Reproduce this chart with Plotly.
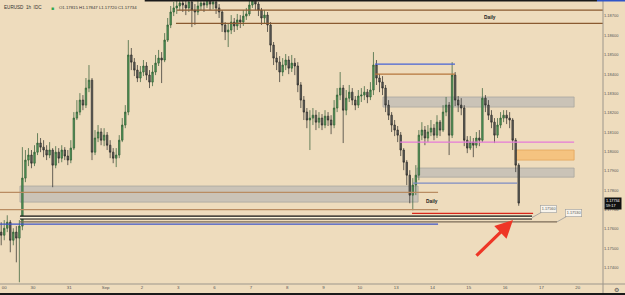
import plotly.graph_objects as go

# ---------------- data ----------------
symbol_text = "EURUSD  1h  IDC"
ohlc_text = "O1.17815 H1.17847 L1.17720 C1.17734"
last_price = 1.17734
countdown = "59:17"

first_open = 1.17584
closes = [
 1.17568, 1.17604, 1.17635, 1.17542, 1.17584, 1.17553, 1.17615, 1.17863, 1.17956, 1.17982,
 1.17940, 1.17997, 1.18044, 1.18023, 1.18008, 1.17982, 1.18008, 1.17930, 1.17997, 1.17966,
 1.18008, 1.17977, 1.17956, 1.18018, 1.18173, 1.18204, 1.18266, 1.18240, 1.18328, 1.18369,
 1.17997, 1.18070, 1.18101, 1.18059, 1.18085, 1.18033, 1.17997, 1.17966, 1.17982, 1.18059,
 1.18137, 1.18204, 1.18499, 1.18462, 1.18421, 1.18380, 1.18411, 1.18442, 1.18395, 1.18359,
 1.18411, 1.18457, 1.18483, 1.18473, 1.18576, 1.18654, 1.18721, 1.18742, 1.18752, 1.18767,
 1.18757, 1.18742, 1.18773, 1.18731, 1.18721, 1.18752, 1.18767, 1.18757, 1.18793, 1.18762,
 1.18773, 1.18742, 1.18721, 1.18654, 1.18618, 1.18628, 1.18669, 1.18649, 1.18680, 1.18669,
 1.18700, 1.18711, 1.18757, 1.18783, 1.18762, 1.18731, 1.18690, 1.18705, 1.18654, 1.18550,
 1.18483, 1.18462, 1.18411, 1.18447, 1.18473, 1.18431, 1.18457, 1.18442, 1.18344, 1.18266,
 1.18204, 1.18163, 1.18173, 1.18188, 1.18152, 1.18173, 1.18137, 1.18183, 1.18163, 1.18137,
 1.18225, 1.18292, 1.18328, 1.18214, 1.18276, 1.18307, 1.18266, 1.18240, 1.18287, 1.18292,
 1.18307, 1.18282, 1.18318, 1.18447, 1.18380, 1.18359, 1.18328, 1.18240, 1.18188, 1.18137,
 1.18111, 1.18085, 1.18008, 1.17945, 1.17878, 1.17775, 1.17827, 1.17878, 1.18085, 1.18111,
 1.18070, 1.18101, 1.18121, 1.18085, 1.18152, 1.18111, 1.18204, 1.18240, 1.18085, 1.18395,
 1.18266, 1.18240, 1.18225, 1.18059, 1.18018, 1.18049, 1.18033, 1.18070, 1.18059, 1.18276,
 1.18240, 1.18188, 1.18152, 1.18085, 1.18137, 1.18173, 1.18188, 1.18173, 1.18163, 1.18059,
 1.17930, 1.17734]
highs = [
 1.17635, 1.17646, 1.17671, 1.17646, 1.17604, 1.17615, 1.17646, 1.18023, 1.18008, 1.18018,
 1.18008, 1.18033, 1.18095, 1.18070, 1.18059, 1.18033, 1.18049, 1.18018, 1.18028, 1.18018,
 1.18033, 1.18023, 1.18008, 1.18059, 1.18204, 1.18266, 1.18302, 1.18292, 1.18380, 1.18447,
 1.18380, 1.18111, 1.18137, 1.18121, 1.18121, 1.18101, 1.18059, 1.18018, 1.18018, 1.18085,
 1.18173, 1.18240, 1.18576, 1.18535, 1.18483, 1.18447, 1.18442, 1.18473, 1.18462, 1.18421,
 1.18447, 1.18499, 1.18525, 1.18514, 1.18612, 1.18690, 1.18752, 1.18773, 1.18793, 1.18809,
 1.18799, 1.18783, 1.18814, 1.18783, 1.18762, 1.18793, 1.18804, 1.18799, 1.18824, 1.18809,
 1.18814, 1.18783, 1.18762, 1.18731, 1.18669, 1.18659, 1.18705, 1.18690, 1.18711, 1.18705,
 1.18731, 1.18742, 1.18793, 1.18824, 1.18809, 1.18773, 1.18742, 1.18731, 1.18721, 1.18669,
 1.18566, 1.18514, 1.18493, 1.18483, 1.18504, 1.18493, 1.18499, 1.18483, 1.18462, 1.18359,
 1.18287, 1.18225, 1.18214, 1.18225, 1.18214, 1.18204, 1.18194, 1.18214, 1.18204, 1.18188,
 1.18266, 1.18328, 1.18411, 1.18344, 1.18318, 1.18344, 1.18328, 1.18287, 1.18318, 1.18328,
 1.18338, 1.18323, 1.18359, 1.18514, 1.18473, 1.18400, 1.18390, 1.18344, 1.18266, 1.18204,
 1.18163, 1.18132, 1.18101, 1.18018, 1.17956, 1.17904, 1.17863, 1.17930, 1.18111, 1.18152,
 1.18132, 1.18137, 1.18163, 1.18142, 1.18188, 1.18163, 1.18240, 1.18282, 1.18256, 1.18462,
 1.18411, 1.18287, 1.18276, 1.18240, 1.18080, 1.18080, 1.18070, 1.18101, 1.18111, 1.18328,
 1.18292, 1.18266, 1.18214, 1.18173, 1.18173, 1.18204, 1.18214, 1.18214, 1.18204, 1.18173,
 1.18070, 1.17940]
lows = [
 1.17516, 1.17542, 1.17584, 1.17480, 1.17516, 1.17428, 1.17325, 1.17594, 1.17842, 1.17925,
 1.17914, 1.17925, 1.17982, 1.17997, 1.17971, 1.17956, 1.17966, 1.17816, 1.17914, 1.17940,
 1.17945, 1.17956, 1.17930, 1.17940, 1.18008, 1.18163, 1.18188, 1.18214, 1.18225, 1.18307,
 1.17956, 1.17982, 1.18049, 1.18033, 1.18028, 1.18008, 1.17966, 1.17940, 1.17920, 1.17966,
 1.18049, 1.18121, 1.18188, 1.18421, 1.18390, 1.18359, 1.18359, 1.18390, 1.18369, 1.18328,
 1.18338, 1.18395, 1.18442, 1.18354, 1.18462, 1.18566, 1.18638, 1.18700, 1.18711, 1.18731,
 1.18721, 1.18705, 1.18721, 1.18643, 1.18654, 1.18705, 1.18731, 1.18721, 1.18742, 1.18731,
 1.18736, 1.18711, 1.18690, 1.18618, 1.18576, 1.18540, 1.18607, 1.18618, 1.18628, 1.18638,
 1.18649, 1.18680, 1.18700, 1.18742, 1.18731, 1.18700, 1.18654, 1.18659, 1.18618, 1.18514,
 1.18447, 1.18421, 1.18359, 1.18390, 1.18421, 1.18400, 1.18411, 1.18395, 1.18307, 1.18225,
 1.18163, 1.18121, 1.18008, 1.18137, 1.18111, 1.18121, 1.18111, 1.18121, 1.18132, 1.18090,
 1.18121, 1.18204, 1.18266, 1.18044, 1.18188, 1.18256, 1.18240, 1.18214, 1.18225, 1.18256,
 1.18266, 1.18250, 1.18266, 1.18292, 1.18344, 1.18307, 1.18292, 1.18204, 1.18163, 1.18101,
 1.18080, 1.18049, 1.17977, 1.17904, 1.17827, 1.17733, 1.17697, 1.17775, 1.17852, 1.18059,
 1.18033, 1.18049, 1.18080, 1.18059, 1.18070, 1.18080, 1.18101, 1.18183, 1.17982, 1.18070,
 1.18235, 1.18204, 1.18188, 1.18028, 1.17992, 1.18008, 1.17971, 1.18018, 1.18028, 1.18049,
 1.18204, 1.18163, 1.18121, 1.18044, 1.18070, 1.18121, 1.18152, 1.18142, 1.18121, 1.18008,
 1.17894, 1.17720]

bar_hours = 2
first_bar_hour = -21

x_tick_hours = [-19, 0, 24, 48, 72, 96, 120, 144, 168, 192, 216, 240, 264, 288, 312, 336, 360]
x_tick_labels = ["00", "30", "31", "Sep", "2", "3", "6", "7", "8", "9", "10", "13", "14", "15", "16", "17", "20"]
y_tick_vals = [1.174, 1.175, 1.176, 1.177, 1.178, 1.179, 1.180, 1.181, 1.182, 1.183, 1.184, 1.185, 1.186, 1.187]
y_tick_text = ["1.17400", "1.17500", "1.17600", "1.17700", "1.17800", "1.17900", "1.18000",
               "1.18100", "1.18200", "1.18300", "1.18400", "1.18500", "1.18600", "1.18700"]

# horizontal level lines
level_prices = [1.18731, 1.18662, 1.18452, 1.18400, 1.18049, 1.17837, 1.17789, 1.17700, 1.17681, 1.17637, 1.17625]
level_from = [95.2, 94.5, 226.0, 226.0, 242.6, 251.2, -22.0, -22.0, 250.5, -8.6, -22.0]
level_to = [377.0, 377.0, 278.9, 278.9, 357.6, 320.0, 267.7, 267.7, 330.5, 346.3, 267.7]
level_colors = ["#8a5a30", "#8a5a30", "#4763d6", "#b5763c", "#e57ad8", "#7d8cc4",
                "#b98c62", "#b98c62", "#d8281c", "#7a6b58", "#3c55c8"]

# zones
zone_top = [1.18282, 1.18008, 1.17915, 1.17822]
zone_bottom = [1.18230, 1.17956, 1.17868, 1.17739]
zone_from = [231.3, 318.6, 253.8, -8.6]
zone_to = [357.6, 357.6, 357.6, 254.5]
zone_fill = ["rgba(190,187,182,0.75)", "rgba(246,190,118,0.85)", "rgba(190,187,182,0.75)", "rgba(190,187,182,0.75)"]
zone_edge = ["#aaa79f", "#e3a45c", "#aaa79f", "#aaa79f"]

band_price = 1.17659
band_from = -8.6
band_to = 329.8

price_tags = ["1.17560", "1.17530"]
tag_prices = [1.17659, 1.17637]
tag_hours = [329.8, 346.3]

daily_hours = [302.1, 263.7]
daily_prices = [1.18695, 1.17744]

# ---------------- figure ----------------
bars_x = [first_bar_hour + bar_hours * i for i in range(len(closes))]
opens = [first_open] + closes[:-1]

BG = "#eedcbd"
fig = go.Figure()
fig.add_trace(go.Candlestick(
    x=bars_x, open=opens, high=highs, low=lows, close=closes,
    increasing=dict(line=dict(color="#2c5a32", width=0.7), fillcolor="#559e5c"),
    decreasing=dict(line=dict(color="#2a2a28", width=0.7), fillcolor="#65645e"),
    whiskerwidth=0, hoverinfo="skip", showlegend=False,
))

shapes = []
for t, b, x0, x1, fc, ec in zip(zone_top, zone_bottom, zone_from, zone_to, zone_fill, zone_edge):
    shapes.append(dict(type="rect", xref="x", yref="y", x0=x0, x1=x1, y0=b, y1=t,
                       fillcolor=fc, line=dict(color=ec, width=0.8), layer="below"))
for p, x0, x1, c in zip(level_prices, level_from, level_to, level_colors):
    shapes.append(dict(type="line", xref="x", yref="y", x0=x0, x1=x1, y0=p, y1=p,
                       line=dict(color=c, width=1.2), layer="above"))
shapes.append(dict(type="line", xref="x", yref="y", x0=band_from, x1=band_to, y0=band_price, y1=band_price,
                   line=dict(color="#111111", width=4), layer="above"))
shapes.append(dict(type="line", xref="x", yref="y", x0=band_from, x1=band_to, y0=band_price, y1=band_price,
                   line=dict(color="#fff6dc", width=1.6), layer="above"))
# frame lines
shapes.append(dict(type="line", xref="paper", yref="paper", x0=1, x1=1, y0=-0.04, y1=1,
                   line=dict(color="#9c968b", width=1)))
shapes.append(dict(type="line", xref="paper", yref="paper", x0=0, x1=1.04, y0=0, y1=0,
                   line=dict(color="#9c968b", width=1)))
shapes.append(dict(type="line", xref="paper", yref="paper", x0=0, x1=1.04, y0=-0.035, y1=-0.035,
                   line=dict(color="#1a1a1a", width=2)))
shapes.append(dict(type="line", xref="paper", yref="paper", x0=0.24, x1=0.99, y0=1, y1=1,
                   line=dict(color="#1a1a1a", width=3)))
shapes.append(dict(type="line", xref="paper", yref="paper", x0=0.99, x1=1.04, y0=1, y1=1,
                   line=dict(color="#2f55c8", width=3)))

ann = []
FONT = "Liberation Sans, Arial, sans-serif"
ann.append(dict(xref="paper", yref="paper", x=0.004, y=0.972, text=symbol_text, showarrow=False,
                xanchor="left", yanchor="middle", font=dict(size=4.6, color="#333", family=FONT)))
ann.append(dict(xref="paper", yref="paper", x=0.082, y=0.972, text="■", showarrow=False,
                xanchor="left", yanchor="middle", font=dict(size=5, color="#2fa84f", family=FONT)))
ann.append(dict(xref="paper", yref="paper", x=0.095, y=0.972, text=ohlc_text, showarrow=False,
                xanchor="left", yanchor="middle", font=dict(size=4.3, color="#333", family=FONT)))
for h, p in zip(daily_hours, daily_prices):
    ann.append(dict(xref="x", yref="y", x=h, y=p, text="<b>Daily</b>", showarrow=False,
                    font=dict(size=4.8, color="#222", family=FONT)))
for txt, h, p in zip(price_tags, tag_hours, tag_prices):
    ann.append(dict(xref="x", yref="y", x=h, y=p, text=txt, showarrow=True, arrowhead=0,
                    arrowwidth=0.8, arrowcolor="#9a9a9a", ax=16, ay=-9,
                    bgcolor="#f8f4ec", bordercolor="#9a9a9a", borderwidth=0.6, borderpad=1.2,
                    font=dict(size=3.8, color="#555", family=FONT)))
# red arrow
ann.append(dict(xref="x", yref="y", x=317.2, y=1.17646, text="", showarrow=True,
                arrowhead=2, arrowsize=1.1, arrowwidth=3.2, arrowcolor="#ee3626",
                ax=-38, ay=37))
# last price tag
ann.append(dict(xref="paper", yref="y", x=1.0, y=last_price, text=f"{last_price:.5f}<br>{countdown}",
                showarrow=False, xanchor="left", yanchor="middle", align="left",
                bgcolor="#111111", borderpad=1, xshift=1,
                font=dict(size=3.8, color="#ffffff", family=FONT)))
ann.append(dict(xref="paper", yref="paper", x=1.015, y=-0.018, text="⚙", showarrow=False,
                xanchor="left", yanchor="middle", font=dict(size=6, color="#555", family="DejaVu Sans")))

fig.update_layout(
    width=625, height=295,
    margin=dict(l=0, r=22, t=0, b=11),
    paper_bgcolor=BG, plot_bgcolor=BG,
    shapes=shapes, annotations=ann,
    font=dict(family=FONT, size=4, color="#555"),
    xaxis=dict(range=[-21.8, 376.7], rangeslider=dict(visible=False), showgrid=False,
               zeroline=False, showline=False, ticks="", tickvals=x_tick_hours,
               ticktext=x_tick_labels, tickfont=dict(size=4.4, color="#555"), fixedrange=True),
    yaxis=dict(range=[1.17316, 1.18783], side="right", showgrid=False, zeroline=False,
               showline=False, ticks="", tickvals=y_tick_vals, ticktext=y_tick_text,
               tickfont=dict(size=4, color="#555"), fixedrange=True),
)

fig.write_html("out.html")
